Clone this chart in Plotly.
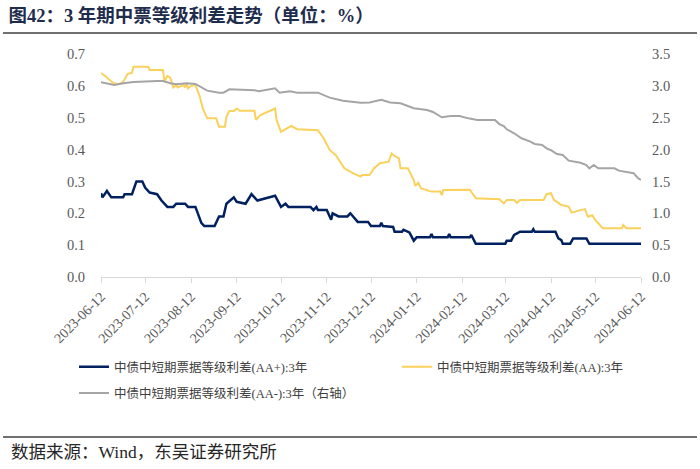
import plotly.graph_objects as go

# ---------------- data ----------------
aa_plus_dates = ["2023-06-12","2023-06-13","2023-06-16","2023-06-19","2023-06-27","2023-06-28","2023-07-03","2023-07-06",
    "2023-07-10","2023-07-12","2023-07-15","2023-07-20","2023-07-23","2023-07-27","2023-07-31","2023-08-02","2023-08-08",
    "2023-08-10","2023-08-15","2023-08-19","2023-08-21","2023-08-28","2023-08-31","2023-09-03","2023-09-05","2023-09-10",
    "2023-09-12","2023-09-18","2023-09-22","2023-09-26","2023-10-08","2023-10-12","2023-10-15","2023-10-17","2023-11-01",
    "2023-11-03","2023-11-05","2023-11-06","2023-11-12","2023-11-15","2023-11-16","2023-11-20","2023-11-26","2023-11-28",
    "2023-12-03","2023-12-10","2023-12-12","2023-12-18","2023-12-19","2023-12-20","2023-12-27","2023-12-28","2024-01-02",
    "2024-01-03","2024-01-07","2024-01-10","2024-01-12","2024-01-21","2024-01-22","2024-01-23","2024-02-02","2024-02-03",
    "2024-02-04","2024-02-17","2024-02-18","2024-02-21","2024-03-12","2024-03-13","2024-03-16","2024-03-18","2024-03-20",
    "2024-03-22","2024-03-30","2024-03-31","2024-04-01","2024-04-15","2024-04-17","2024-04-19","2024-04-20","2024-04-25",
    "2024-04-27","2024-05-06","2024-05-08","2024-06-12"]
aa_plus_values = [0.263,0.25,0.27,0.25,0.25,0.26,0.26,0.30,
    0.30,0.28,0.265,0.26,0.24,0.22,0.22,0.23,0.23,
    0.22,0.22,0.17,0.16,0.16,0.19,0.19,0.23,0.25,
    0.236,0.23,0.26,0.24,0.255,0.22,0.23,0.22,0.22,
    0.21,0.22,0.21,0.21,0.18,0.20,0.19,0.19,0.20,
    0.173,0.173,0.16,0.16,0.17,0.16,0.157,0.142,0.142,
    0.148,0.14,0.114,0.125,0.125,0.135,0.125,0.125,0.135,
    0.125,0.125,0.132,0.104,0.104,0.114,0.114,0.132,0.137,
    0.142,0.142,0.15,0.142,0.142,0.121,0.116,0.104,0.104,
    0.121,0.121,0.104,0.104]

aa_dates = ["2023-06-12","2023-06-15","2023-06-20","2023-06-23","2023-06-26","2023-06-28","2023-06-30","2023-07-03",
    "2023-07-04","2023-07-14","2023-07-15","2023-07-24","2023-07-25","2023-07-27","2023-07-29","2023-07-30","2023-07-31",
    "2023-08-02","2023-08-03","2023-08-07","2023-08-08","2023-08-09","2023-08-10","2023-08-12","2023-08-15","2023-08-18",
    "2023-08-20","2023-08-23","2023-08-29","2023-08-31","2023-09-04","2023-09-05","2023-09-07","2023-09-10","2023-09-12",
    "2023-09-14","2023-09-24","2023-09-25","2023-09-28","2023-10-08","2023-10-09","2023-10-12","2023-10-16","2023-10-19",
    "2023-10-23","2023-11-06","2023-11-10","2023-11-14","2023-11-18","2023-11-22","2023-11-24","2023-11-30","2023-12-05",
    "2023-12-06","2023-12-11","2023-12-14","2023-12-18","2023-12-24","2023-12-26","2023-12-28","2023-12-31","2024-01-01",
    "2024-01-06","2024-01-10","2024-01-11","2024-01-13","2024-01-15","2024-01-22","2024-01-28","2024-01-29","2024-01-30",
    "2024-02-17","2024-02-21","2024-03-08","2024-03-11","2024-03-13","2024-03-18","2024-03-20","2024-03-22","2024-04-07",
    "2024-04-09","2024-04-12","2024-04-14","2024-04-16","2024-04-19","2024-04-24","2024-04-26","2024-05-02","2024-05-05",
    "2024-05-07","2024-05-10","2024-05-12","2024-05-14","2024-05-17","2024-05-30","2024-05-31","2024-06-02","2024-06-12"]
aa_values = [0.64,0.63,0.61,0.605,0.608,0.62,0.637,0.641,
    0.66,0.66,0.65,0.65,0.613,0.631,0.625,0.613,0.595,
    0.603,0.595,0.603,0.595,0.608,0.592,0.60,0.603,0.566,
    0.529,0.498,0.498,0.472,0.472,0.503,0.521,0.521,0.529,
    0.522,0.522,0.493,0.508,0.529,0.493,0.456,0.467,0.474,
    0.464,0.461,0.435,0.399,0.383,0.357,0.341,0.325,0.315,
    0.32,0.32,0.341,0.357,0.362,0.388,0.38,0.372,0.341,
    0.341,0.304,0.286,0.296,0.278,0.268,0.268,0.257,0.273,
    0.274,0.247,0.244,0.231,0.242,0.242,0.233,0.242,0.242,
    0.26,0.263,0.242,0.236,0.226,0.221,0.202,0.21,0.213,
    0.189,0.194,0.179,0.168,0.153,0.153,0.163,0.153,0.153]

aa_minus_dates = ["2023-06-12","2023-06-21","2023-06-27","2023-07-04","2023-07-20","2023-07-24","2023-07-29","2023-08-02",
    "2023-08-09","2023-08-15","2023-08-23","2023-08-31","2023-09-03","2023-09-07","2023-09-24","2023-09-27","2023-10-08",
    "2023-10-11","2023-10-18","2023-10-23","2023-11-06","2023-11-14","2023-11-23","2023-12-05","2023-12-11","2023-12-19",
    "2023-12-25","2024-01-01","2024-01-10","2024-01-19","2024-01-23","2024-01-29","2024-02-04","2024-02-10","2024-02-16",
    "2024-02-22","2024-03-05","2024-03-08","2024-03-11","2024-03-13","2024-03-18","2024-03-23","2024-03-29","2024-04-01",
    "2024-04-06","2024-04-09","2024-04-12","2024-04-16","2024-04-20","2024-04-24","2024-05-02","2024-05-06","2024-05-08",
    "2024-05-11","2024-05-14","2024-05-25","2024-05-28","2024-06-02","2024-06-07","2024-06-10","2024-06-12"]
aa_minus_values = [3.056,3.014,3.04,3.061,3.077,3.077,3.04,3.025,
    3.04,3.03,2.925,2.893,2.893,2.946,2.93,2.914,2.962,
    2.893,2.914,2.893,2.893,2.815,2.768,2.736,2.74,2.78,
    2.74,2.727,2.648,2.62,2.59,2.507,2.527,2.527,2.49,
    2.465,2.465,2.40,2.37,2.318,2.256,2.177,2.124,2.088,
    2.072,2.02,1.99,1.931,1.915,1.826,1.794,1.758,1.706,
    1.758,1.706,1.706,1.669,1.653,1.63,1.55,1.523]

names = ["中债中短期票据等级利差(AA+):3年", "中债中短期票据等级利差(AA):3年", "中债中短期票据等级利差(AA-):3年（右轴）"]
left_ticks = [0.0, 0.1, 0.2, 0.3, 0.4, 0.5, 0.6, 0.7]
right_ticks = [0.0, 0.5, 1.0, 1.5, 2.0, 2.5, 3.0, 3.5]
title_text = "图42：3 年期中票等级利差走势（单位：%）"
source_text = "数据来源：Wind，东吴证券研究所"

FONT = "Liberation Serif, Noto Sans CJK SC, serif"
TICK_COLOR = "#595959"
LEG_FONT = dict(family=FONT, size=12.5, color="#404040")

fig = go.Figure()
fig.add_trace(go.Scatter(x=aa_plus_dates, y=aa_plus_values, name=names[0], mode="lines",
                         line=dict(color="#002060", width=2.5), legend="legend"))
fig.add_trace(go.Scatter(x=aa_dates, y=aa_values, name=names[1], mode="lines",
                         line=dict(color="#FAD15A", width=2), legend="legend2"))
fig.add_trace(go.Scatter(x=aa_minus_dates, y=aa_minus_values, name=names[2], mode="lines",
                         line=dict(color="#A5A5A5", width=2), yaxis="y2", legend="legend3"))

fig.update_layout(
    width=700, height=469,
    margin=dict(l=101, r=59, t=54, b=192),
    paper_bgcolor="white", plot_bgcolor="white",
    font=dict(family=FONT, size=13, color=TICK_COLOR),
    xaxis=dict(
        type="date", range=["2023-06-12", "2024-06-12"],
        tick0="2023-06-12", dtick="M1", tickformat="%Y-%m-%d", tickangle=-45,
        showgrid=False, zeroline=False,
        showline=True, linecolor="#D9D9D9", linewidth=1,
        ticks="outside", ticklen=5, tickcolor="#D9D9D9",
        tickfont=dict(family=FONT, size=14, color=TICK_COLOR),
    ),
    yaxis=dict(
        range=[0, 0.7], tickvals=left_ticks, tickformat=".1f",
        showgrid=False, zeroline=False, showline=False, ticks="",
        ticklabelstandoff=15,
        tickfont=dict(family=FONT, size=14.5, color=TICK_COLOR),
    ),
    yaxis2=dict(
        range=[0, 3.5], tickvals=right_ticks, tickformat=".1f",
        overlaying="y", side="right",
        showgrid=False, zeroline=False, showline=False, ticks="",
        ticklabelstandoff=10,
        tickfont=dict(family=FONT, size=14.5, color=TICK_COLOR),
    ),
    legend=dict(orientation="h", x=-0.05, xanchor="left", y=-0.337, yanchor="top",
                font=LEG_FONT, bgcolor="rgba(0,0,0,0)"),
    legend2=dict(orientation="h", x=0.548, xanchor="left", y=-0.337, yanchor="top",
                 font=LEG_FONT, bgcolor="rgba(0,0,0,0)"),
    legend3=dict(orientation="h", x=-0.05, xanchor="left", y=-0.455, yanchor="top",
                 font=LEG_FONT, bgcolor="rgba(0,0,0,0)"),
    title=dict(text="<b>" + title_text + "</b>", xref="container", yref="container",
               x=0.012, xanchor="left", y=1 - 16 / 469, yanchor="middle",
               font=dict(family=FONT, size=18.5, color="#1F2D4D")),
    showlegend=True,
)

# horizontal rules (title and source separators), in paper coordinates
fig.add_shape(type="line", xref="paper", yref="paper", x0=-0.1815, x1=1.1037, y0=1.094, y1=1.094,
              line=dict(color="#404040", width=1.5))
fig.add_shape(type="line", xref="paper", yref="paper", x0=-0.1815, x1=1.1037, y0=-0.7175, y1=-0.7175,
              line=dict(color="#404040", width=1.5))
fig.add_annotation(text=source_text, xref="paper", yref="paper", x=-0.17, y=-0.785,
                   xanchor="left", yanchor="middle", showarrow=False,
                   font=dict(family=FONT, size=17.5, color="#262626"))

fig.write_html("out.html")
